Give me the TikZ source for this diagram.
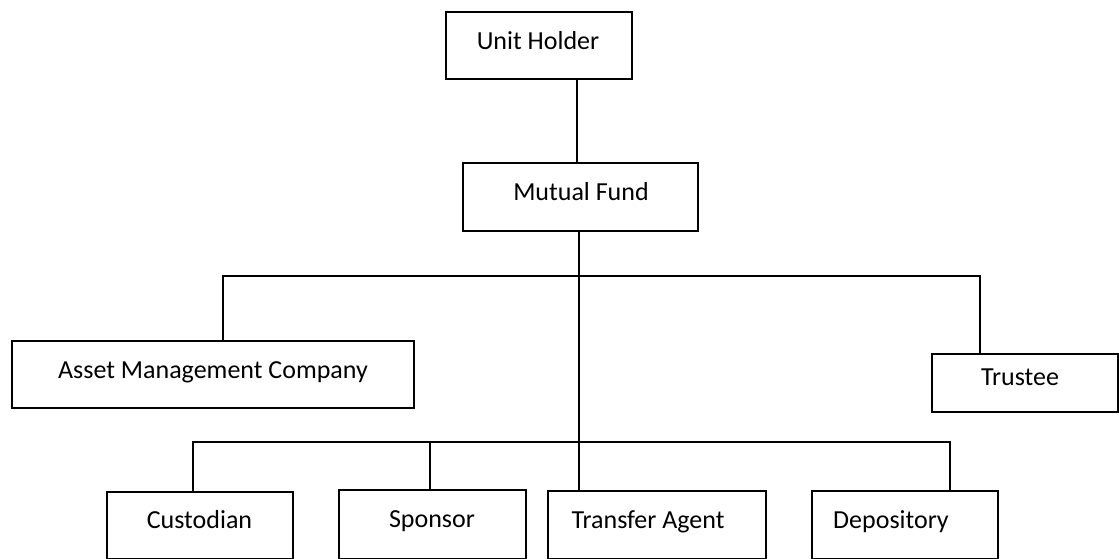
\documentclass[tikz,border=0pt]{standalone}
\usepackage{fontspec}
\setmainfont{Carlito}
\begin{document}
\begin{tikzpicture}[x=1pt,y=-1pt,
  box/.style={draw,line width=1.6pt,rectangle,inner sep=0pt},
  lbl/.style={anchor=base,inner sep=0pt,font=\fontsize{26}{31}\selectfont},
  conn/.style={line width=1.6pt}]
\useasboundingbox (0,0) rectangle (1119,558);
% boxes
\node[box,minimum width=186pt,minimum height=67pt] (uh) at (539,45.5) {};
\node[box,minimum width=235pt,minimum height=68pt] (mf) at (580.5,197) {};
\node[box,minimum width=402pt,minimum height=67pt] (amc) at (213,374.5) {};
\node[box,minimum width=186pt,minimum height=58pt] (tr) at (1025,383) {};
\node[box,minimum width=186pt,minimum height=67pt] (cu) at (200,525.5) {};
\node[box,minimum width=187pt,minimum height=69pt] (sp) at (432.5,524.5) {};
\node[box,minimum width=218pt,minimum height=68pt] (ta) at (657,525) {};
\node[box,minimum width=186pt,minimum height=68pt] (de) at (905,525) {};
% labels
\node[lbl] (tuh) at (538,49) {Unit Holder};
\node[lbl] (tmf) at (581,200) {Mutual Fund};
\node[lbl] (tamc) at (213,378) {Asset Management Company};
\node[lbl] (ttr) at (1020,385) {Trustee};
\node[lbl] (tcu) at (199.5,528) {Custodian};
\node[lbl] (tsp) at (432,527) {Sponsor};
\node[lbl] (tta) at (648,528) {Transfer Agent};
\node[lbl] (tde) at (891,528) {Depository};
% junction coordinates
\coordinate (x1) at (577,0);
\coordinate (x2) at (579,0);
\coordinate (b1l) at (223,276);
\coordinate (b1r) at (980,276);
\coordinate (b2l) at (193,442);
\coordinate (b2m) at (430,442);
\coordinate (b2r) at (950,442);
% connectors
\draw[conn] (uh.south -| x1) -- (mf.north -| x1);
\draw[conn] (mf.south -| x2) -- (ta.north -| x2);
\draw[conn] (amc.north -| b1l) -- (b1l) -- (b1r) -- (tr.north -| b1r);
\draw[conn] (cu.north -| b2l) -- (b2l) -- (b2r) -- (de.north -| b2r);
\draw[conn] (b2m) -- (sp.north -| b2m);
\end{tikzpicture}
\end{document}
